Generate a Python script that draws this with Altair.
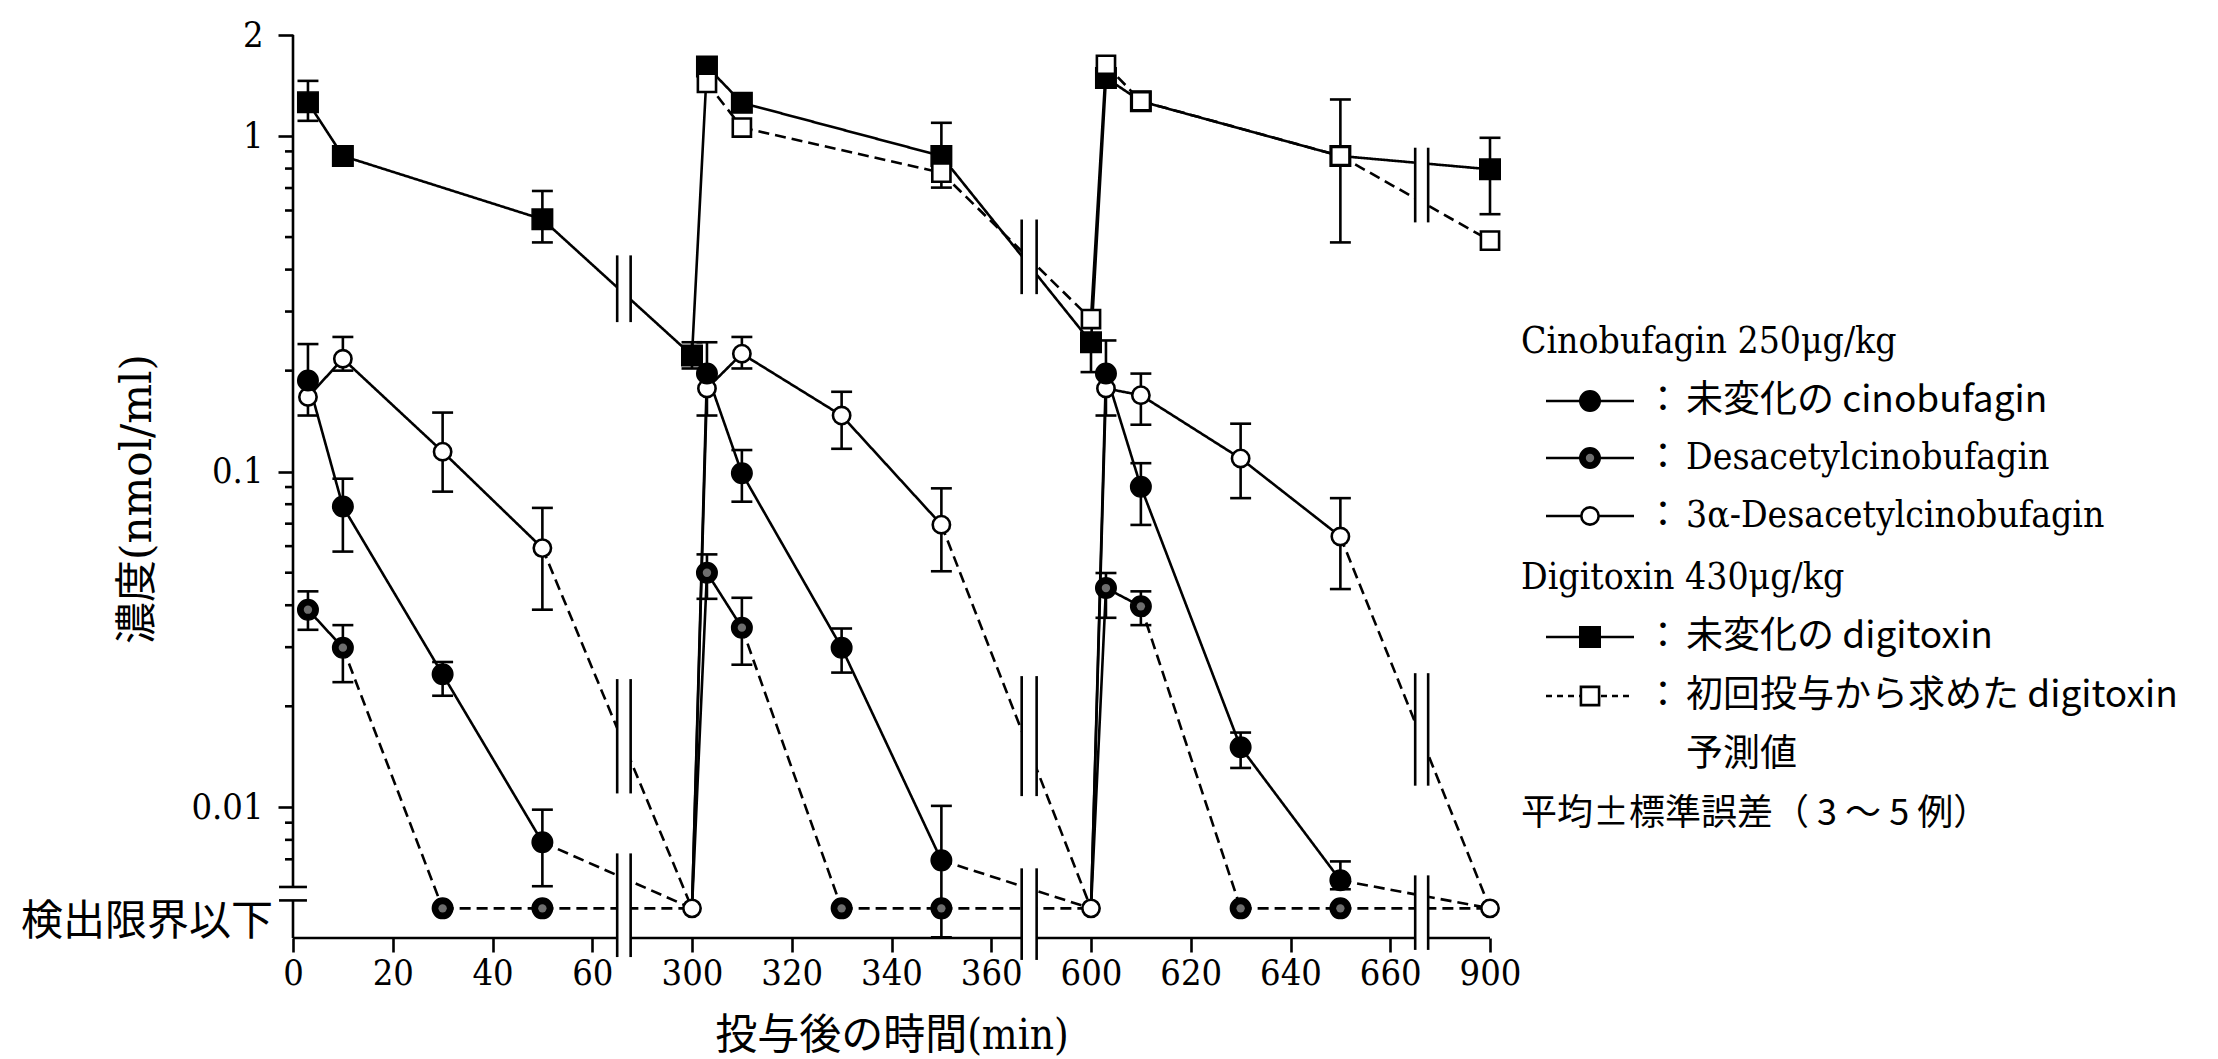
import altair as alt
import pandas as pd

# ---------------------------------------------------------------------------
# Plasma levels after repeated i.v. dosing (0, 300, 600 min)
# ---------------------------------------------------------------------------
BDL = 0.005            # plotting level used for "below detection limit"
Y_MIN, Y_MAX = 0.00408, 2.0
X_MAX = 240            # length of the broken time axis (axis units)

# Cinobufagin 250 ug/kg and its metabolites
t_cino = [3, 10, 30, 50, 300, 303, 310, 330, 350, 600, 603, 610, 630, 650, 900]
cino_mean = [0.187, 0.0787, 0.0249, 0.00787, BDL, 0.196, 0.0989, 0.0299, 0.00695,
             BDL, 0.196, 0.0902, 0.0151, 0.00606, BDL]
cino_lo = [None, 0.0578, 0.0215, 0.00582, None, None, 0.0814, 0.0252, 0.0041,
           None, None, 0.0694, 0.0131, 0.0057, None]
cino_hi = [0.240, 0.0953, 0.0271, 0.00984, None, 0.243, 0.116, 0.0341, 0.0101,
           None, 0.246, 0.106, 0.0167, 0.0069, None]

desac_mean = [0.0388, 0.0299, BDL, BDL, BDL, 0.0500, 0.0343, BDL, BDL,
              BDL, 0.0450, 0.0397, BDL, BDL, BDL]
desac_lo = [0.0338, 0.0236, None, None, None, 0.0418, 0.0266, None, None,
            None, 0.0367, 0.0349, None, None, None]
desac_hi = [0.0440, 0.0349, None, None, None, 0.0567, 0.0421, None, None,
            None, 0.0499, 0.0440, None, None, None]

a3_mean = [0.167, 0.217, 0.1147, 0.0592, BDL, 0.177, 0.2246, 0.147, 0.0695,
           BDL, 0.177, 0.169, 0.1095, 0.0641, BDL]
a3_lo = [0.147, 0.200, 0.0872, 0.0388, None, 0.147, 0.203, 0.117, 0.0505,
         None, 0.147, 0.138, 0.0834, 0.0447, None]
a3_hi = [None, 0.252, 0.150, 0.0780, None, None, 0.252, 0.173, 0.0892,
         None, None, 0.196, 0.139, 0.0834, None]

# Digitoxin 430 ug/kg: measured and predicted from the first dose
t_dig = [3, 10, 50, 300, 303, 310, 350, 600, 603, 610, 650, 900]
dig_mean = [1.26, 0.872, 0.565, 0.222, 1.61, 1.256, 0.872, 0.243, 1.49, 1.27, 0.872, 0.796]
dig_lo = [1.11, None, 0.482, 0.203, None, None, 0.702, 0.198, None, None, 0.482, 0.585]
dig_hi = [1.46, None, 0.686, 0.243, None, None, 1.095, None, None, None, 1.285, 0.988]

t_pred = [303, 310, 350, 600, 603, 610, 650, 900]
pred_mean = [1.44, 1.06, 0.778, 0.285, 1.63, 1.27, 0.872, 0.488]

# time-axis labels
tick_time = [0, 20, 40, 60, 300, 320, 340, 360, 600, 620, 640, 660, 900]
y_tick_values = [0.01, 0.1, 1, 2]
y_minor = [0.007, 0.008, 0.009, 0.02, 0.03, 0.04, 0.05, 0.06, 0.07, 0.08, 0.09,
           0.2, 0.3, 0.4, 0.5, 0.6, 0.7, 0.8, 0.9]

# axis breaks (axis units) and the vertical extent of each "||" symbol
breaks = [(65.0, 67.7), (146.1, 149.1), (225.0, 227.6)]
break_marks = [(0, 0.279, 0.441), (0, 0.0110, 0.0241), (0, 0.00358, 0.00729),
               (1, 0.338, 0.564), (1, 0.0108, 0.0246), (1, 0.00351, 0.00658),
               (2, 0.553, 0.923), (2, 0.0116, 0.0251), (2, 0.00376, 0.00627)]
y_break = [0.00528, 0.00579]


def axis_pos(t):
    """Map time after first dose onto the broken axis."""
    if t < 200:
        return t
    if t < 500:
        return t - 220
    if t < 800:
        return t - 440
    return t - 660


NUM_FONT = "'DejaVu Serif Condensed', 'Liberation Serif', serif"
MIX_FONT = "'DejaVu Serif Condensed', 'Noto Sans CJK JP', serif"
WIDE_FONT = "'DejaVu Serif', 'Noto Sans CJK JP', serif"
JP_FONT = "'Noto Sans CJK JP', sans-serif"
LW = 2.6

# ---------------------------------------------------------------------------
# tables
# ---------------------------------------------------------------------------
def segs(name, times, vals, style_of):
    return [dict(series=name, x=axis_pos(times[i]), x2=axis_pos(times[i + 1]),
                 y=vals[i], y2=vals[i + 1], style=style_of(times, vals, i))
            for i in range(len(times) - 1)]


def metab_style(times, vals, i):
    return "dashed" if vals[i + 1] == BDL else "solid"


def pred_style(times, vals, i):
    return "solid" if times[i] % 300 == 0 and times[i + 1] - times[i] < 10 else "dashed"


seg_rows = (segs("cino", t_cino, cino_mean, metab_style)
            + segs("desac", t_cino, desac_mean, metab_style)
            + segs("a3", t_cino, a3_mean, metab_style)
            + segs("dig", t_dig, dig_mean, lambda t, v, i: "solid")
            + segs("pred", t_pred, pred_mean, pred_style))
seg_df = pd.DataFrame(seg_rows)


def err(times, mean, lo, hi):
    rows = []
    for t, m, l, h in zip(times, mean, lo, hi):
        if l is None and h is None:
            continue
        x = axis_pos(t)
        rows.append(dict(x=x, xl=x - 2.1, xr=x + 2.1,
                         lo=l if l is not None else m, hi=h if h is not None else m,
                         cap_lo=l is not None, cap_hi=h is not None))
    return rows


err_df = pd.DataFrame(err(t_cino, cino_mean, cino_lo, cino_hi)
                      + err(t_cino, desac_mean, desac_lo, desac_hi)
                      + err(t_cino, a3_mean, a3_lo, a3_hi)
                      + err(t_dig, dig_mean, dig_lo, dig_hi))
cap_df = pd.concat([
    err_df[err_df.cap_lo].assign(y=err_df.lo)[["xl", "xr", "y"]],
    err_df[err_df.cap_hi].assign(y=err_df.hi)[["xl", "xr", "y"]],
])


def points(times, vals, skip_bdl):
    return pd.DataFrame([dict(x=axis_pos(t), y=v) for t, v in zip(times, vals)
                         if not (skip_bdl and v == BDL and t % 300 == 0)])


cino_pts = points(t_cino, cino_mean, True)
desac_pts = points(t_cino, desac_mean, True)
a3_pts = points(t_cino, a3_mean, False)
dig_pts = points(t_dig, dig_mean, False)
pred_pts = points(t_pred, pred_mean, False)

gap_df = pd.DataFrame([dict(x=breaks[b][0], x2=breaks[b][1], lo=lo, hi=hi)
                       for b, lo, hi in break_marks])
bar_df = pd.DataFrame([dict(x=breaks[b][k], lo=lo, hi=hi)
                       for b, lo, hi in break_marks for k in (0, 1)])

edges = [0] + [v for b in breaks for v in b] + [X_MAX]
xaxis_df = pd.DataFrame([dict(x=edges[i], x2=edges[i + 1], y=Y_MIN)
                         for i in range(0, len(edges), 2)])
yaxis_df = pd.DataFrame([dict(x=0, lo=Y_MIN, hi=y_break[0]),
                         dict(x=0, lo=y_break[1], hi=Y_MAX)])
ybreak_df = pd.DataFrame([dict(x=-2.8, x2=2.8, y=v) for v in y_break])
minor_df = pd.DataFrame([dict(x=-1.6, x2=0, y=v) for v in y_minor])
bdl_df = pd.DataFrame([dict(x=-4.0, y=0.00456, label="検出限界以下")])

# ---------------------------------------------------------------------------
# scales / axes
# ---------------------------------------------------------------------------
tick_pos = [axis_pos(t) for t in tick_time]
label_map = ", ".join(f"'{p}': '{t}'" for p, t in zip(tick_pos, tick_time))

xscale = alt.Scale(domain=[0, X_MAX], nice=False, zero=False)
yscale = alt.Scale(type="log", domain=[Y_MIN, Y_MAX], nice=False)

x_axis = alt.Axis(values=tick_pos, labelExpr="({" + label_map + "})[datum.value]",
                  title="投与後の時間(min)", domain=False, grid=False,
                  tickSize=14, tickWidth=LW, tickColor="black",
                  labelFont=NUM_FONT, labelFontSize=36, labelColor="black",
                  labelPadding=4, labelFlush=False, labelOverlap=False,
                  titleFont=MIX_FONT, titleFontSize=42, titleFontWeight="normal",
                  titleColor="black", titleY=97, titleBaseline="middle")
y_axis = alt.Axis(values=y_tick_values, format="~g", title=None,
                  domain=False, grid=False, tickSize=15, tickWidth=LW, tickColor="black",
                  labelFont=NUM_FONT, labelFontSize=36, labelColor="black",
                  labelPadding=15, labelFlush=False, labelOverlap=False)


def X(f):
    return alt.X(f, type="quantitative", scale=xscale, axis=x_axis)


def Y(f):
    return alt.Y(f, type="quantitative", scale=yscale, axis=y_axis)


dash = alt.StrokeDash("style:N", scale=alt.Scale(domain=["solid", "dashed"],
                                                 range=[[1, 0], [11, 6]]), legend=None)

lines = alt.Chart(seg_df).mark_rule(color="black", strokeWidth=LW).encode(
    x=X("x"), x2="x2", y=Y("y"), y2="y2", strokeDash=dash)
ebars = alt.Chart(err_df).mark_rule(color="black", strokeWidth=LW).encode(
    x=X("x"), y=Y("lo"), y2="hi")
caps = alt.Chart(cap_df).mark_rule(color="black", strokeWidth=LW).encode(
    x=X("xl"), x2="xr", y=Y("y"))
gaps = alt.Chart(gap_df).mark_rect(color="white", opacity=1).encode(
    x=X("x"), x2="x2", y=Y("lo"), y2="hi")
bars = alt.Chart(bar_df).mark_rule(color="black", strokeWidth=LW).encode(
    x=X("x"), y=Y("lo"), y2="hi")
xaxis_line = alt.Chart(xaxis_df).mark_rule(color="black", strokeWidth=LW).encode(
    x=X("x"), x2="x2", y=Y("y"))
yaxis_line = alt.Chart(yaxis_df).mark_rule(color="black", strokeWidth=LW).encode(
    x=X("x"), y=Y("lo"), y2="hi")
ybreak = alt.Chart(ybreak_df).mark_rule(color="black", strokeWidth=LW).encode(
    x=X("x"), x2="x2", y=Y("y"))
minor = alt.Chart(minor_df).mark_rule(color="black", strokeWidth=LW).encode(
    x=X("x"), x2="x2", y=Y("y"))
bdl_text = alt.Chart(bdl_df).mark_text(font=JP_FONT, fontSize=42, align="right",
                                       baseline="middle", color="black").encode(
    x=X("x"), y=Y("y"), text="label:N")


def marker(df, shape, fill, size, sw=LW):
    return alt.Chart(df).mark_point(shape=shape, filled=True, fill=fill, stroke="black",
                                    strokeWidth=sw, size=size, opacity=1).encode(
        x=X("x"), y=Y("y"))


m_dig = marker(dig_pts, "square", "black", 420, 1.5)
m_pred = marker(pred_pts, "square", "white", 330)
m_a3 = marker(a3_pts, "circle", "white", 300)
m_cino = marker(cino_pts, "circle", "black", 420, 1.5)
m_desac = marker(desac_pts, "circle", "black", 420, 1.5)
m_desac_in = alt.Chart(desac_pts).mark_point(shape="circle", filled=True, fill="#6e6e6e",
                                             strokeWidth=0, size=70, opacity=1).encode(
    x=X("x"), y=Y("y"))

# ---------------------------------------------------------------------------
# vertical axis title and key (positions in pixels from the plot origin)
# ---------------------------------------------------------------------------
one = pd.DataFrame({"k": [0]})

y_title = alt.Chart(one).mark_text(text="濃度(nmol/ml)", font=WIDE_FONT, fontSize=42,
                                   angle=270, align="center", baseline="middle",
                                   color="black").encode(
    x=alt.value(-155), y=alt.value(464))

LX_HEAD, LX_L0, LX_L1, LX_MK, LX_COLON, LX_TEXT = 1228, 1253, 1341, 1297, 1370, 1393

key_text = [
    ("Cinobufagin 250μg/kg", LX_HEAD, 307, NUM_FONT, 37),
    ("未変化の cinobufagin", LX_TEXT, 366, JP_FONT, 37),
    ("Desacetylcinobufagin", LX_TEXT, 423, NUM_FONT, 37),
    ("3α-Desacetylcinobufagin", LX_TEXT, 481, NUM_FONT, 37),
    ("Digitoxin 430μg/kg", LX_HEAD, 543, NUM_FONT, 37),
    ("未変化の digitoxin", LX_TEXT, 602, JP_FONT, 37),
    ("初回投与から求めた digitoxin", LX_TEXT, 661, JP_FONT, 37),
    ("予測値", LX_TEXT, 720, JP_FONT, 37),
    ("平均±標準誤差（ 3 ～ 5 例）", LX_HEAD, 779, JP_FONT, 36),
]
key_rows = [  # y, marker shape, fill, dashed
    (366, "circle", "black", False),
    (423, "circle", "desac", False),
    (481, "circle", "white", False),
    (602, "square", "black", False),
    (661, "square", "white", True),
]

key_layers = []
for txt, x, y, font, size in key_text:
    key_layers.append(alt.Chart(one).mark_text(text=txt, font=font, fontSize=size,
                                               align="left", baseline="middle",
                                               color="black").encode(
        x=alt.value(x), y=alt.value(y)))
for y, shape, fill, dashed in key_rows:
    key_layers.append(alt.Chart(one).mark_rule(color="black", strokeWidth=LW,
                                               strokeDash=[6, 5] if dashed else [1, 0]).encode(
        x=alt.value(LX_L0), x2=alt.value(LX_L1), y=alt.value(y)))
    size = 300 if fill == "white" and shape == "circle" else (330 if fill == "white" else 420)
    key_layers.append(alt.Chart(one).mark_point(shape=shape, filled=True,
                                                fill="black" if fill == "desac" else fill,
                                                stroke="black",
                                                strokeWidth=LW if fill == "white" else 1.5,
                                                size=size, opacity=1).encode(
        x=alt.value(LX_MK), y=alt.value(y)))
    if fill == "desac":
        key_layers.append(alt.Chart(one).mark_point(shape="circle", filled=True,
                                                    fill="#6e6e6e", strokeWidth=0,
                                                    size=70, opacity=1).encode(
            x=alt.value(LX_MK), y=alt.value(y)))
    key_layers.append(alt.Chart(one).mark_text(text="：", font=JP_FONT, fontSize=36,
                                               align="center", baseline="middle",
                                               color="black").encode(
        x=alt.value(LX_COLON), y=alt.value(y)))

chart = alt.layer(
    lines, ebars, caps, gaps, bars, xaxis_line, yaxis_line, ybreak, minor, bdl_text,
    m_dig, m_pred, m_a3, m_cino, m_desac, m_desac_in, y_title, *key_layers,
).properties(
    width=1197, height=903,
    padding={"left": 293, "top": 35, "right": 728, "bottom": 121},
    autosize=alt.AutoSizeParams(type="none"),
    background="white",
).configure_view(stroke=None)

chart.save("out.html", embed_options={"renderer": "svg", "actions": False})
